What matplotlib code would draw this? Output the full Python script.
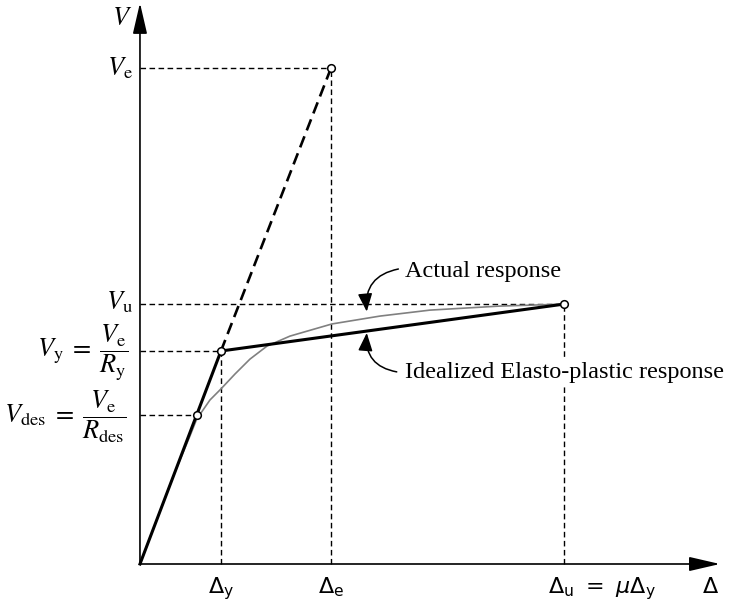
import matplotlib
matplotlib.use("Agg")
import matplotlib.pyplot as plt

# Characteristic displacements (normalised by the yield displacement)
delta_y = 1.0
delta_e = 2.36
delta_u = 5.23

# Characteristic base shears (normalised by the yield strength)
v_des = 0.70
v_y = 1.0
v_u = 1.22
v_e = 2.33

# Actual (curved) force-displacement response
actual_d = [0.0, 0.432, 0.617, 0.70, 0.864, 1.0, 1.173, 1.358, 1.568, 1.852,
            2.37, 2.963, 3.58, 4.444, 5.23]
actual_v = [0.0, 0.432, 0.601, 0.68, 0.77, 0.822, 0.892, 0.962, 1.023, 1.070,
            1.127, 1.164, 1.192, 1.211, 1.22]

x_ticklabels = [r"$\Delta_\mathrm{y}$", r"$\Delta_\mathrm{e}$",
                r"$\Delta_\mathrm{u}\ =\ \mu\Delta_\mathrm{y}$"]

fig = plt.figure(figsize=(7.35, 6.05), dpi=100)
ax = fig.add_axes([0, 0, 1, 1])
ax.set_xlim(-1.728, 7.346)
ax.set_ylim(-0.1925, 2.648)
ax.axis("off")

x_end = 7.16
y_end = 2.634

# Coordinate axes with arrowheads
for tip in [(x_end, 0), (0, y_end)]:
    ax.annotate("", xy=tip, xytext=(0, 0),
                arrowprops=dict(arrowstyle="-|>,head_length=0.95,head_width=0.22",
                                lw=1.2, color="black", mutation_scale=20,
                                shrinkA=0, shrinkB=0))

ref = dict(color="black", lw=1.0, linestyle=(0, (4, 2.5)), zorder=2)

# Reference lines to the axes
ax.plot([0, delta_e], [v_e, v_e], **ref)
ax.plot([delta_e, delta_e], [0, v_e], **ref)
ax.plot([0, delta_u], [v_u, v_u], **ref)
ax.plot([delta_u, delta_u], [0, v_u], **ref)
ax.plot([0, delta_y], [v_y, v_y], **ref)
ax.plot([delta_y, delta_y], [0, v_y], **ref)
v_des_d = v_des / v_y * delta_y
ax.plot([0, v_des_d], [v_des, v_des], **ref)

# Actual response
ax.plot(actual_d, actual_v, color="#808080", lw=1.2, zorder=3,
        solid_joinstyle="round")

# Idealized elasto-plastic response
ax.plot([0, delta_y, delta_u], [0, v_y, v_u], color="black", lw=2.2,
        solid_joinstyle="round", zorder=4)
# Elastic extension up to the elastic demand
ax.plot([delta_y, delta_e], [v_y, v_e], color="black", lw=1.9,
        linestyle=(0, (4.5, 2.4)), zorder=4)

# Key points
ax.plot([v_des_d, delta_y, delta_e, delta_u], [v_des, v_y, v_e, v_u],
        linestyle="none", marker="o", ms=5.5, mfc="white", mec="black",
        mew=1.1, zorder=6)

# Axis titles
ax.text(-0.22, 2.563, r"$V$", fontsize=19, ha="center", va="center",
        math_fontfamily="stix")
ax.text(7.04, -0.136, r"$\Delta$", fontsize=16, ha="center", va="baseline",
        math_fontfamily="dejavusans")

# Force labels
ylab = dict(fontsize=19, math_fontfamily="stix", va="center")
ax.text(-0.09, v_e - 0.005, r"$V_\mathrm{e}$", ha="right", **ylab)
ax.text(-0.09, v_u + 0.01, r"$V_\mathrm{u}$", ha="right", **ylab)
ax.text(-0.14, v_y - 0.01,
        r"$V_\mathrm{y}\;=\;\dfrac{V_\mathrm{e}}{R_\mathrm{y}}$",
        ha="right", **ylab)
ax.text(-0.17, v_des - 0.01,
        r"$V_\mathrm{des}\;=\;\dfrac{V_\mathrm{e}}{R_\mathrm{des}}$",
        ha="right", **ylab)

# Displacement labels
xlab = dict(fontsize=16, math_fontfamily="dejavusans", va="baseline")
ax.text(delta_y, -0.136, x_ticklabels[0], ha="center", **xlab)
ax.text(delta_e, -0.136, x_ticklabels[1], ha="center", **xlab)
ax.text(delta_u - 0.19, -0.136, x_ticklabels[2], ha="left", **xlab)

# Curve annotations
txt = dict(fontsize=17.5, family="Liberation Serif", va="center")
ax.text(3.27, 1.371, "Actual response", ha="left", **txt)
ax.text(3.27, 0.897, "Idealized Elasto-plastic response", ha="left", zorder=5,
        bbox=dict(boxstyle="square,pad=0.15", fc="white", ec="none"), **txt)

head = dict(arrowstyle="-|>,head_length=0.55,head_width=0.22", lw=1.1,
            color="black", mutation_scale=20, shrinkA=0, shrinkB=0)
ax.annotate("", xy=(2.80, 1.185), xytext=(3.19, 1.385),
            arrowprops=dict(connectionstyle="arc3,rad=0.45", **head), zorder=7)
ax.annotate("", xy=(2.80, 1.085), xytext=(3.17, 0.902),
            arrowprops=dict(connectionstyle="arc3,rad=-0.45", **head), zorder=7)

fig.savefig("out.png", dpi=100)
